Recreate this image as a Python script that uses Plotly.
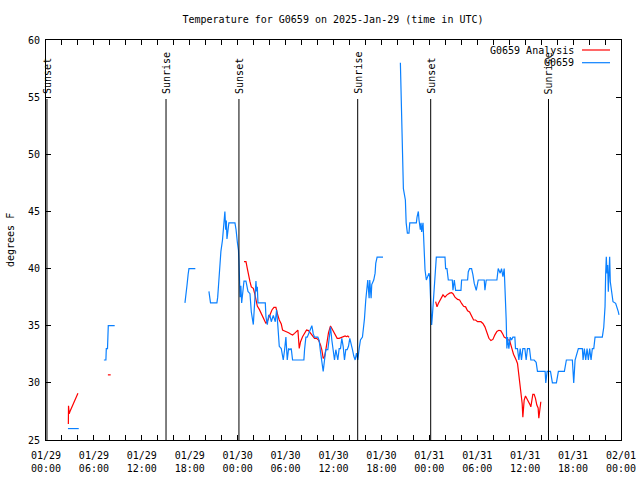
import pandas as pd
import plotly.graph_objects as go

# ---------------- data (hours after 2025-01-29 00:00 UTC) ----------------
BASE = pd.Timestamp("2025-01-29 00:00")

obs_hours = [
    2.75, 4.1, None,
    7.25, 7.5, 7.55, 7.7, 7.75, 7.8, 8.6, None,
    17.4, 17.5, 17.65, 17.8, 17.9, 18.7, None,
    20.4, 20.5, 20.6, 21.4, 21.5, 21.6, 21.75, 21.9, 22.1, 22.25, 22.33, 22.4, 22.5, 22.58,
    22.66, 22.8, 22.9, 23.66, 23.8, 23.96, 24.1, 24.16, 24.2, 24.3, 24.4, 24.5, 24.79, 25.04,
    25.125, 25.29, 25.54, 25.71, 25.96, 26.125, 26.29, 26.38, 26.46, 26.54, 26.79, 27.46,
    27.54, 27.71, 27.875, 28.04, 28.21, 28.46, 28.71, 28.875, 29.04, 29.21, 29.46, 29.71,
    29.875, 30.04, 30.21, 30.375, 30.54, 30.71, 30.875, 32.29, 32.375, 32.54, 32.71, 33.04,
    33.29, 33.46, 33.625, 34.04, 34.21, 34.375, 34.54, 34.71, 34.875, 35.04, 35.29, 35.46,
    35.625, 35.79, 35.96, 36.125, 36.29, 36.54, 36.71, 36.875, 37.04, 37.21, 37.375, 37.54,
    37.71, 37.875, 38.04, 38.21, 38.375, 38.54, 38.71, 38.875, 39.04, 39.21, 39.375, 39.625,
    39.79, 39.875, 40.04, 40.2, 40.29, 40.46, 40.54, 40.71, 40.79, 41.04, 41.21, 41.29,
    41.46, 42.2, None,
    44.375, 44.45, 44.6, 44.75, 45.0, 45.1, 45.25, 45.45, 45.55, 46.375, 46.46, 46.625,
    46.71, 46.875, 46.96, 47.04, 47.21, 47.29, 47.375, 47.46, 47.625, 47.96, 48.04, 48.125,
    48.2, 48.29, 48.375, 48.54, 48.71, 48.875, 49.96, 50.04, 50.21, 50.375, 50.875, 50.96,
    51.125, 51.29, 51.96, 52.04, 52.79, 52.875, 53.04, 53.29, 53.46, 53.625, 53.875, 54.125,
    54.875, 54.96, 55.125, 56.46, 56.625, 56.875, 57.04, 57.21, 57.375, 57.46, 57.625, 57.71,
    57.79, 57.96, 58.125, 58.29, 58.46, 58.71, 58.79, 59.04, 59.21, 59.375, 59.54, 59.71,
    59.96, 60.125, 60.29, 60.54, 60.71, 61.125, 61.375, 61.54, 62.29, 62.5, 62.58, 62.75,
    63.17, 63.41, 63.91, 64.16, 64.91, 65.16, 65.91, 66.08, 66.25, 66.41, 66.66, 67.16,
    67.25, 67.41, 67.58, 67.75, 67.91, 68.08, 68.25, 68.41, 68.59, 68.75, 69.66, 69.84,
    70.0, 70.08, 70.16, 70.25, 70.33, 70.41, 70.58, 70.66, 70.83, 71.0, 71.33, 71.5,
    71.66, 71.75,
]
obs_temp = [
    26.0, 26.0, None,
    32.0, 32.0, 33.0, 33.0, 34.0, 35.0, 35.0, None,
    37.0, 37.5, 38.5, 39.5, 40.0, 40.0, None,
    38.0, 37.3, 37.0, 37.0, 37.5, 38.5, 40.6, 41.5, 42.5, 43.8, 44.7, 45.0, 43.4, 44.2,
    42.6, 43.2, 44.0, 44.0, 43.4, 42.3, 41.6, 40.7, 39.6, 37.5, 38.5, 37.0, 38.9, 38.9,
    38.6, 38.0, 37.8, 36.2, 35.1, 37.0, 38.9, 38.0, 38.4, 37.0, 37.0, 37.0,
    35.8, 35.1, 35.9, 35.9, 35.35, 35.9, 35.35, 36.4, 34.9, 33.2, 33.0, 32.0,
    32.9, 34.0, 32.0, 33.0, 32.9, 33.0, 32.0, 32.0, 32.9, 34.0, 34.0, 34.6,
    35.0, 34.3, 34.0, 34.0, 33.7, 32.7, 32.0, 31.0, 32.0, 32.9, 32.9, 34.0,
    34.9, 33.75, 32.9, 32.0, 32.9, 32.0, 33.0, 33.0, 33.9, 33.2, 32.0, 32.9,
    32.9, 33.2, 33.9, 33.2, 32.9, 32.35, 32.0, 32.6, 32.0, 33.0, 33.75, 34.0,
    34.8, 35.6, 37.25, 38.7, 39.0, 37.4, 39.0, 37.4, 38.6, 39.0, 39.6, 40.45,
    41.0, 41.0, None,
    58.0, 55.3, 49.8, 47.0, 46.0, 44.0, 43.1, 43.1, 44.0, 44.0, 44.5, 45.0,
    44.25, 43.4, 44.0, 43.2, 44.0, 42.8, 41.0, 39.9, 39.0, 39.6, 39.3, 37.25,
    35.06, 35.06, 35.8, 37.5, 39.0, 41.0, 41.0, 40.0, 40.0, 39.0, 39.0, 38.1,
    39.0, 38.1, 38.1, 39.0, 39.0, 39.7, 40.0, 40.0, 39.44, 38.7, 38.1, 39.0,
    39.0, 38.1, 39.0, 39.0, 40.0, 39.6, 40.0, 39.3, 40.0, 38.7, 35.5, 33.0,
    34.0, 33.0, 34.0, 33.75, 34.0, 34.0, 33.0, 33.0, 32.0, 33.0, 32.0, 33.0,
    33.0, 32.0, 33.0, 33.0, 32.0, 32.0, 31.8, 31.0, 31.0, 31.0, 30.0, 31.0,
    31.0, 30.0, 30.0, 31.0, 31.0, 32.0, 32.0, 30.0, 32.0, 32.35, 33.0, 33.0,
    32.0, 33.0, 32.0, 33.0, 32.0, 33.0, 32.0, 33.0, 33.0, 34.0, 34.0, 34.86,
    36.67, 39.58, 41.04, 39.58, 40.31, 37.98, 41.04, 38.85, 37.83, 37.1, 36.96, 36.67,
    36.23, 35.94,
]

ana_hours = [
    2.8, 2.82, 2.9, 3.0, 3.5, 3.9, 4.0, None,
    7.75, 8.1, None,
    24.79, 25.04, 25.21, 25.375, 25.54, 25.71, 25.96, 26.125, 26.29, 26.46, 26.71, 26.96,
    27.21, 27.54, 27.79, 28.04, 28.29, 28.54, 28.79, 28.96, 29.21, 29.46, 29.625, 29.875,
    30.125, 30.375, 30.625, 30.875, 31.125, 31.375, 31.54, 31.71, 31.875, 32.125, 32.375,
    32.625, 32.875, 33.125, 33.375, 33.625, 33.875, 34.125, 34.375, 34.54, 34.71, 34.875,
    35.04, 35.21, 35.375, 35.625, 35.79, 35.96, 36.21, 36.46, 36.71, 36.96, 37.21, 37.46,
    37.625, 37.79, 37.96, None,
    48.79, 48.96, 49.125, 49.46, 49.71, 49.96, 50.21, 50.54, 50.79, 50.96, 51.21, 51.54,
    51.79, 52.04, 52.29, 52.54, 52.79, 53.04, 53.29, 53.54, 53.79, 54.04, 54.46, 54.71,
    54.96, 55.21, 55.46, 55.71, 55.96, 56.21, 56.46, 56.71, 56.96, 57.21, 57.375, 57.625,
    57.875, 58.04, 58.21, 58.375, 58.54, 58.71, 58.875, 59.04, 59.21, 59.375, 59.54, 59.625,
    59.71, 59.875, 60.04, 60.21, 60.375, 60.625, 60.71, 60.96, 61.125, 61.29, 61.46, 61.625,
    61.71, 61.96,
]
ana_temp = [
    26.4, 28.0, 27.3, 27.5, 28.3, 29.1, 29.1, None,
    30.7, 30.7, None,
    40.6, 40.6, 40.0, 39.3, 38.85, 38.4, 38.27, 37.83, 37.25, 36.72, 36.43, 36.08,
    35.64, 35.2, 35.5, 35.94, 36.38, 36.6, 36.6, 36.08, 35.5, 35.15, 34.62, 34.54,
    34.48, 34.39, 34.27, 34.19, 34.33, 34.48, 34.62, 33.02, 33.6, 34.04, 34.39,
    34.62, 34.57, 34.33, 34.1, 33.9, 33.9, 33.75, 33.31, 32.88, 32.15, 32.3,
    32.88, 33.75, 34.39, 34.98, 34.77, 34.48, 34.19, 33.9, 33.9, 33.98, 34.04, 34.1,
    34.04, 34.1, 33.98, None,
    37.1, 36.65, 36.95, 37.4, 37.7, 37.5, 37.7, 37.85, 37.9, 37.8, 37.5, 37.3,
    37.25, 36.95, 36.7, 36.65, 36.3, 36.2, 35.85, 35.5, 35.5, 35.35, 35.35, 35.2,
    34.9, 34.33, 33.9, 33.7, 33.8, 34.2, 34.5, 34.6, 34.55, 34.25, 34.0, 33.9,
    33.75, 33.75, 33.2, 32.9, 32.5, 32.15, 32.0, 31.7, 30.7, 29.8, 28.8, 28.2,
    27.0, 28.5, 28.85, 28.65, 28.35, 28.06, 27.9, 29.0, 29.0, 28.65, 28.06, 27.8,
    26.9, 28.35,
]

sunset_hours = [0.12, 24.16, 48.17]
sunrise_hours = [15.03, 39.03, 62.92]

title_text = "Temperature for G0659 on 2025-Jan-29 (time in UTC)"
series_names = ["G0659 Analysis", "G0659"]
y_label = "degrees F"
y_range = [25, 60]
x_span_hours = 72


def to_time(hrs):
    return [None if h is None else BASE + pd.Timedelta(hours=h) for h in hrs]


FONT = "DejaVu Sans Mono"
RED = "#ff0000"
BLUE = "#0a80ff"

fig = go.Figure()
fig.add_trace(go.Scatter(x=to_time(ana_hours), y=ana_temp, mode="lines",
                         line=dict(color=RED, width=1.2), name=series_names[0],
                         connectgaps=False))
fig.add_trace(go.Scatter(x=to_time(obs_hours), y=obs_temp, mode="lines",
                         line=dict(color=BLUE, width=1.2), name=series_names[1],
                         connectgaps=False))

# sun event lines + labels
line_top = (440 - 99) / 400
label_bottom = (440 - 96) / 400
for label, hrs in (("Sunset", sunset_hours), ("Sunrise", sunrise_hours)):
    for h in hrs:
        t = BASE + pd.Timedelta(hours=h)
        fig.add_shape(type="line", xref="x", yref="paper", x0=t, x1=t, y0=0, y1=line_top,
                      line=dict(color="black", width=1))
        fig.add_annotation(x=t, y=label_bottom, xref="x", yref="paper", text=label,
                           textangle=-90, showarrow=False, xanchor="center",
                           yanchor="bottom", font=dict(family=FONT, size=10, color="black"))

# manual gnuplot-style legend (text right-aligned, sample line to the right)
def px_x(p):
    return (p - 46) / 575


def px_y(p):
    return (440 - p) / 400


for name, color, ypx in ((series_names[0], RED, 50), (series_names[1], BLUE, 62.7)):
    fig.add_annotation(x=px_x(576), y=px_y(ypx), xref="paper", yref="paper", text=name,
                       showarrow=False, xanchor="right", yanchor="middle",
                       font=dict(family=FONT, size=10, color="black"))
    fig.add_shape(type="line", xref="paper", yref="paper", x0=px_x(582), x1=px_x(610),
                  y0=px_y(ypx), y1=px_y(ypx), line=dict(color=color, width=1.2))

fig.add_annotation(x=px_x(10), y=0.5, xref="paper", yref="paper", text=y_label,
                   textangle=-90, showarrow=False, xanchor="center", yanchor="middle",
                   font=dict(family=FONT, size=10, color="black"))

fig.update_layout(
    width=640, height=480,
    margin=dict(l=46, r=19, t=40, b=40, pad=0, autoexpand=False),
    paper_bgcolor="white", plot_bgcolor="white",
    showlegend=False,
    font=dict(family=FONT, size=10, color="black"),
    title=dict(text=title_text, x=px_x(333), xref="paper", xanchor="center",
               y=1 - 19 / 480, yanchor="middle", yref="container", automargin=False,
               font=dict(family=FONT, size=10, color="black")),
)
fig.update_xaxes(
    type="date", automargin=False,
    range=[BASE, BASE + pd.Timedelta(hours=x_span_hours)],
    tick0=BASE, dtick=6 * 3600 * 1000, tickformat="%m/%d<br>%H:%M",
    ticks="inside", ticklen=5, tickcolor="black", tickwidth=1,
    ticklabelstandoff=6,
    minor=dict(dtick=2 * 3600 * 1000, tick0=BASE, ticks="inside", ticklen=5,
               tickcolor="black", tickwidth=1, showgrid=False),
    showline=True, linecolor="black", linewidth=1, mirror="allticks",
    showgrid=False, zeroline=False,
    tickfont=dict(family=FONT, size=10, color="black"),
)
fig.update_yaxes(
    range=y_range, dtick=5, tick0=25, automargin=False,
    ticks="inside", ticklen=5, tickcolor="black", tickwidth=1,
    ticklabelstandoff=3,
    showline=True, linecolor="black", linewidth=1, mirror="allticks",
    showgrid=False, zeroline=False,
    tickfont=dict(family=FONT, size=10, color="black"),
)

fig.write_html("out.html", config={"displayModeBar": False},
               post_script="document.body.style.margin='0';document.body.style.padding='0';")
